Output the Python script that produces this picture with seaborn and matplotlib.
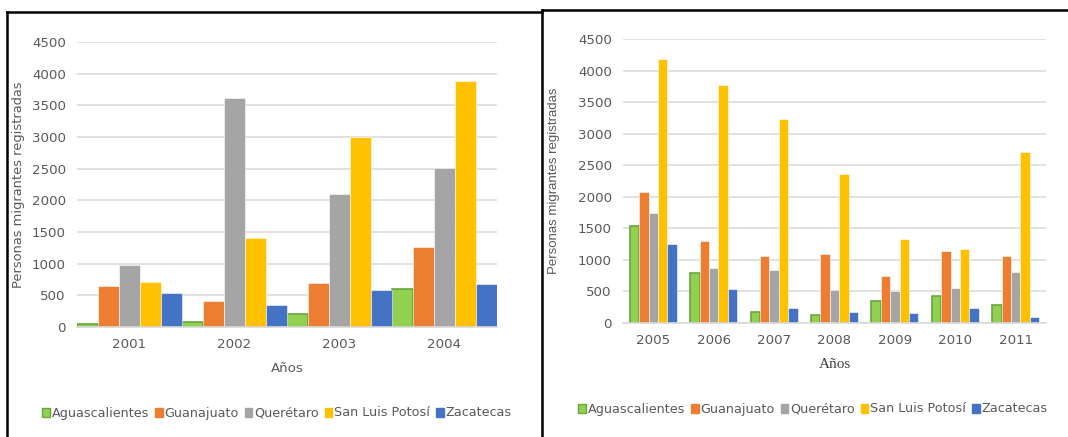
import pandas as pd
import numpy as np
import matplotlib
matplotlib.use('Agg')
import matplotlib.pyplot as plt
import seaborn as sns
from matplotlib.patches import Patch
from matplotlib.lines import Line2D

estados = ['Aguascalientes', 'Guanajuato', 'Querétaro', 'San Luis Potosí', 'Zacatecas']
colores = ['#92D050', '#ED7D31', '#A5A5A5', '#FFC000', '#4472C4']

# Panel izquierdo 2001-2004
anios_a = ['2001', '2002', '2003', '2004']
aguascalientes_a = [50, 75, 210, 600]
guanajuato_a = [655, 405, 700, 1260]
queretaro_a = [985, 3620, 2095, 2515]
slp_a = [715, 1400, 3000, 3880]
zacatecas_a = [540, 355, 590, 680]

# Panel derecho 2005-2011
anios_b = ['2005', '2006', '2007', '2008', '2009', '2010', '2011']
aguascalientes_b = [1535, 795, 175, 130, 345, 420, 285]
guanajuato_b = [2075, 1305, 1065, 1095, 750, 1140, 1055]
queretaro_b = [1750, 865, 835, 520, 500, 555, 810]
slp_b = [4185, 3765, 3230, 2360, 1325, 1165, 2710]
zacatecas_b = [1245, 545, 230, 175, 165, 235, 95]


def tabla(anios, series):
    filas = []
    for est, vals in zip(estados, series):
        for a, v in zip(anios, vals):
            filas.append({'Año': a, 'Estado': est, 'Valor': v})
    return pd.DataFrame(filas)


df_a = tabla(anios_a, [aguascalientes_a, guanajuato_a, queretaro_a, slp_a, zacatecas_a])
df_b = tabla(anios_b, [aguascalientes_b, guanajuato_b, queretaro_b, slp_b, zacatecas_b])

gris_txt = '#595959'
gris_grid = '#D9D9D9'

fig = plt.figure(figsize=(10.68, 4.37), dpi=100)
ax1 = fig.add_axes([77 / 1068, 110 / 437, 420 / 1068, 285 / 437])
ax2 = fig.add_axes([623 / 1068, 114 / 437, 423 / 1068, 284 / 437])


def dibujar(ax, df, anios, ancho, ylab_font, xlab_font, ylab_x):
    sns.barplot(data=df, x='Año', y='Valor', hue='Estado', order=anios,
                hue_order=estados, palette=colores, width=ancho, gap=0,
                saturation=1, ax=ax, legend=False, linewidth=0)
    n = len(anios)
    for i, p in enumerate(ax.patches):
        if i < n:
            p.set_edgecolor('#6AA43E')
            p.set_linewidth(1.2)
        else:
            p.set_edgecolor('white')
            p.set_linewidth(0.4)
    ax.set_ylim(0, 4500)
    ax.set_xlim(-0.5, n - 0.5)
    ax.set_yticks(np.arange(0, 4501, 500))
    ax.yaxis.grid(True, color=gris_grid, lw=1.1)
    ax.set_axisbelow(True)
    for s in ['top', 'right', 'left']:
        ax.spines[s].set_visible(False)
    ax.spines['bottom'].set_color(gris_grid)
    ax.spines['bottom'].set_linewidth(1.2)
    ax.tick_params(axis='both', length=0, labelsize=9.6, colors=gris_txt, pad=8)
    ax.set_ylabel('Personas migrantes registradas', color=gris_txt, **ylab_font)
    ax.set_xlabel('Años', labelpad=8, **xlab_font)
    ax.yaxis.set_label_coords(ylab_x, 0.5)


dibujar(ax1, df_a, anios_a, 1.0,
        dict(fontsize=9.4, family='DejaVu Sans'),
        dict(fontsize=9.6, color=gris_txt, family='DejaVu Sans'), -0.124)
dibujar(ax2, df_b, anios_b, 0.78,
        dict(fontsize=9.5, family='Liberation Sans'),
        dict(fontsize=11, color='#404040', family='Liberation Serif'), -0.149)

# Leyendas
handles = []
for est, c in zip(estados, colores):
    ec = '#6AA43E' if est == 'Aguascalientes' else c
    handles.append(Patch(facecolor=c, edgecolor=ec, linewidth=1.0, label=est))

for cx, cy in [(277 / 1068, 1 - 413 / 437), (813 / 1068, 1 - 409 / 437)]:
    leg = fig.legend(handles=handles, loc='center', bbox_to_anchor=(cx, cy), ncol=5,
                     frameon=False, fontsize=9.2, handlelength=0.6, handleheight=0.7,
                     handletextpad=0.15, columnspacing=0.45, borderaxespad=0)
    for t in leg.get_texts():
        t.set_color(gris_txt)

# Marcos de los paneles
W, H = 1068, 437
def linea(x0, y0, x1, y1):
    fig.add_artist(Line2D([x0 / W, x1 / W], [1 - y0 / H, 1 - y1 / H],
                          color='black', lw=1.8, transform=fig.transFigure))

linea(7, 12, 542, 12)
linea(7, 12, 7, 437)
linea(542, 10, 1068, 10)
linea(542, 10, 542, 437)

fig.savefig('out.png', dpi=100)
